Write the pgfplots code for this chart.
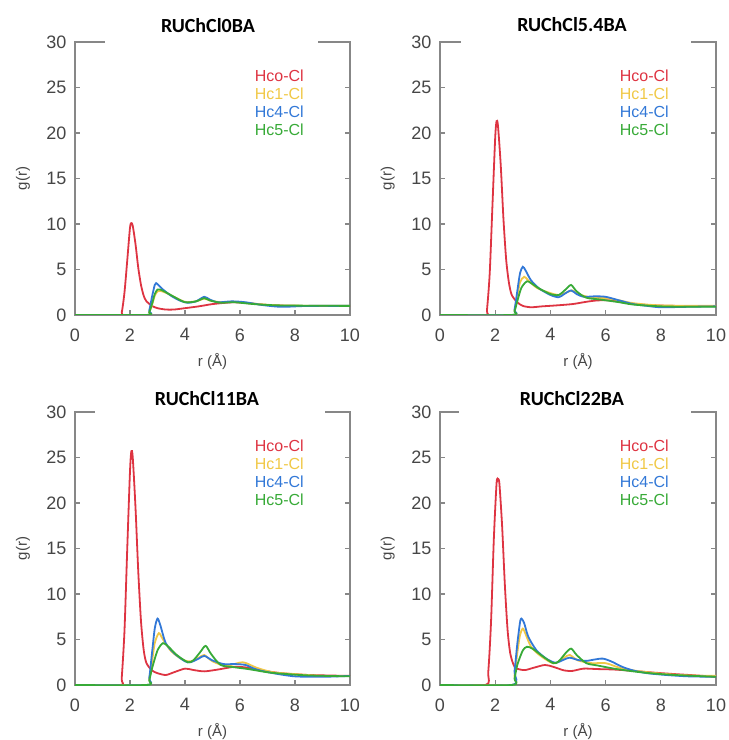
\documentclass[border=0pt]{standalone}
\usepackage{fontspec}
\setmainfont{Liberation Sans}
\newfontfamily\titlefont{Carlito}
\usepackage{pgfplots}
\pgfplotsset{compat=1.18}
\definecolor{cred}{RGB}{222,52,66}
\definecolor{cyel}{RGB}{240,200,70}
\definecolor{cblu}{RGB}{50,120,215}
\definecolor{cgrn}{RGB}{55,170,55}
\definecolor{axgray}{RGB}{135,135,135}
\definecolor{txgray}{RGB}{70,70,70}
\pgfplotsset{
  rdf/.style={
    scale only axis, anchor=south west,
    xmin=0, xmax=10, ymin=0, ymax=30,
    xtick={0,2,4,6,8,10}, ytick={0,5,10,15,20,25,30},
    tick align=inside, major tick length=5pt,
    axis line style={axgray, line width=1.4pt},
    every tick/.style={axgray, line width=1.2pt},
    tick label style={font=\fontsize{18}{20}\selectfont, text=txgray},
    xticklabel style={yshift=-10pt},
    yticklabel style={xshift=-5pt},
    /pgf/number format/assume math mode=true,
    xlabel={r (Å)}, ylabel={g(r)},
    label style={font=\fontsize{15}{17}\selectfont, text=txgray},
    xlabel style={at={(axis description cs:0.5,-0.172)}, anchor=center},
    ylabel style={at={(axis description cs:-0.189,0.5)}, anchor=center},
    every axis plot/.append style={line width=1.8pt, smooth, tension=0.45},
    clip=true,
  }
}
\newcommand{\legtext}[2]{%
  \node[anchor=north east, align=right, font=\fontsize{16}{18}\selectfont, inner sep=0pt] at (#1,#2)
  {\textcolor{cred}{Hco-Cl}\\\textcolor{cyel}{Hc1-Cl}\\\textcolor{cblu}{Hc4-Cl}\\\textcolor{cgrn}{Hc5-Cl}};}
\begin{document}
\begin{tikzpicture}[x=1pt,y=1pt]
\path[use as bounding box] (0,0) rectangle (729,740);
% Panel 1
\begin{axis}[rdf, at={(75pt,425pt)}, width=275pt, height=273pt]
\addplot[cred] coordinates {(0,0)(1.6,0)(1.7,0.3)(1.8,2.5)(1.9,6)(2.0,9.6)(2.05,10.1)(2.1,9.8)(2.2,7.8)(2.3,5.2)(2.4,3.3)(2.5,2.1)(2.6,1.5)(2.8,1.0)(3.0,0.75)(3.3,0.6)(3.6,0.6)(4.0,0.75)(4.5,0.95)(5.0,1.2)(5.5,1.35)(5.8,1.4)(6.3,1.3)(7,1.1)(8,1.0)(10,1.0)};
\addplot[cyel] coordinates {(0,0)(2.6,0)(2.7,0.3)(2.8,1.1)(2.9,2.1)(3.0,2.6)(3.1,2.65)(3.3,2.45)(3.6,2.0)(4.0,1.45)(4.4,1.5)(4.7,1.8)(4.9,1.6)(5.3,1.4)(5.8,1.45)(6.5,1.25)(7.5,1.05)(10,1.0)};
\addplot[cblu] coordinates {(0,0)(2.6,0)(2.7,0.5)(2.8,2.0)(2.9,3.3)(2.95,3.5)(3.0,3.4)(3.2,2.8)(3.5,2.1)(3.8,1.6)(4.1,1.35)(4.4,1.5)(4.7,2.0)(4.9,1.7)(5.2,1.4)(5.7,1.5)(6.2,1.4)(6.8,1.1)(7.5,0.9)(8.5,1.0)(10,1.0)};
\addplot[cgrn] coordinates {(0,0)(2.6,0)(2.7,0.3)(2.8,1.2)(2.9,2.3)(3.0,2.8)(3.1,2.8)(3.3,2.5)(3.6,2.0)(4.0,1.4)(4.4,1.5)(4.7,1.85)(4.9,1.6)(5.3,1.35)(5.8,1.4)(6.5,1.2)(7.5,1.05)(10,1.0)};
\end{axis}
% Panel 2
\begin{axis}[rdf, at={(440pt,425pt)}, width=276pt, height=273pt]
\addplot[cred] coordinates {(0,0)(1.65,0)(1.7,0.5)(1.8,4.5)(1.9,12)(2.0,19.5)(2.05,21.3)(2.1,20.8)(2.2,16.5)(2.3,10.5)(2.4,6)(2.5,3.5)(2.6,2.2)(2.8,1.4)(3.0,1.0)(3.3,0.85)(3.7,0.95)(4.2,1.05)(4.8,1.2)(5.3,1.45)(5.7,1.6)(6.2,1.6)(6.8,1.3)(7.5,1.1)(8.5,1.0)(10,1.0)};
\addplot[cyel] coordinates {(0,0)(2.6,0)(2.7,0.5)(2.8,2.0)(2.9,3.6)(3.05,4.2)(3.2,3.8)(3.5,3.0)(3.9,2.5)(4.3,2.2)(4.6,2.5)(4.8,2.7)(5.0,2.3)(5.5,1.9)(6.0,1.85)(6.5,1.6)(7.0,1.3)(8,1.05)(10,1.0)};
\addplot[cblu] coordinates {(0,0)(2.6,0)(2.7,0.6)(2.8,2.6)(2.9,4.6)(3.0,5.3)(3.1,4.9)(3.3,3.8)(3.6,2.9)(4.0,2.2)(4.3,1.95)(4.5,2.3)(4.75,2.7)(4.95,2.3)(5.2,2.0)(5.6,2.05)(6.0,2.0)(6.5,1.6)(7.0,1.2)(7.5,1.0)(8.0,0.85)(9,0.9)(10,0.95)};
\addplot[cgrn] coordinates {(0,0)(2.6,0)(2.7,0.4)(2.8,1.5)(2.95,3.0)(3.15,3.7)(3.3,3.5)(3.6,2.9)(4.0,2.3)(4.3,2.2)(4.55,2.8)(4.75,3.3)(4.95,2.6)(5.3,1.9)(5.8,1.7)(6.5,1.4)(7.0,1.15)(8,0.95)(9,0.9)(10,0.9)};
\end{axis}
% Panel 3
\begin{axis}[rdf, at={(75pt,55pt)}, width=275pt, height=273pt]
\addplot[cred] coordinates {(0,0)(1.65,0)(1.7,0.8)(1.8,6)(1.9,15)(2.0,23.5)(2.05,25.7)(2.1,25)(2.2,19.5)(2.3,12.5)(2.4,7)(2.5,3.8)(2.6,2.4)(2.8,1.6)(3.0,1.3)(3.3,1.1)(3.6,1.4)(4.0,1.8)(4.3,1.65)(4.7,1.5)(5.2,1.7)(5.8,2.0)(6.3,1.9)(6.8,1.6)(7.5,1.3)(8.5,1.1)(10,1.0)};
\addplot[cyel] coordinates {(0,0)(2.6,0)(2.7,0.6)(2.8,2.5)(2.9,4.6)(3.05,5.7)(3.2,5.0)(3.5,3.7)(3.9,2.8)(4.2,2.6)(4.5,3.0)(4.7,3.3)(5.0,2.6)(5.5,2.1)(6.1,2.5)(6.6,1.9)(7.2,1.4)(8,1.2)(9,1.0)(10,1.0)};
\addplot[cblu] coordinates {(0,0)(2.6,0)(2.7,0.8)(2.8,3.5)(2.9,6.2)(3.0,7.3)(3.1,6.6)(3.3,4.6)(3.6,3.5)(4.0,2.6)(4.2,2.5)(4.5,2.9)(4.7,3.2)(5.0,2.7)(5.4,2.3)(5.8,2.3)(6.2,2.2)(6.6,1.7)(7.2,1.3)(8,0.95)(9,0.9)(10,1.0)};
\addplot[cgrn] coordinates {(0,0)(2.6,0)(2.7,0.5)(2.8,1.8)(3.0,3.8)(3.2,4.6)(3.4,4.2)(3.7,3.3)(4.1,2.5)(4.3,2.7)(4.55,3.6)(4.75,4.3)(4.95,3.4)(5.3,2.2)(5.8,1.95)(6.3,1.75)(7,1.4)(7.5,1.25)(8.5,1.05)(10,0.95)};
\end{axis}
% Panel 4
\begin{axis}[rdf, at={(440pt,55pt)}, width=276pt, height=273pt]
\addplot[cred] coordinates {(0,0)(1.65,0)(1.75,1.5)(1.85,7)(1.95,16)(2.05,22.2)(2.1,22.5)(2.15,22.2)(2.25,17.5)(2.35,11)(2.45,6)(2.55,3.4)(2.7,2.0)(2.9,1.7)(3.1,1.65)(3.4,1.9)(3.8,2.2)(4.1,2.0)(4.5,1.6)(4.8,1.55)(5.2,1.8)(5.7,1.75)(6.3,1.7)(7,1.55)(7.8,1.35)(8.5,1.2)(9.3,1.05)(10,0.9)};
\addplot[cyel] coordinates {(0,0)(2.6,0)(2.7,1.0)(2.8,3.5)(2.9,5.5)(3.0,6.2)(3.1,5.6)(3.3,4.2)(3.6,3.3)(4.0,2.5)(4.2,2.4)(4.5,3.0)(4.7,3.3)(5.0,2.7)(5.5,2.4)(6.0,2.4)(6.5,1.9)(7.0,1.6)(8,1.25)(9,1.05)(10,1.0)};
\addplot[cblu] coordinates {(0,0)(2.6,0)(2.7,1.5)(2.8,4.5)(2.9,6.9)(2.95,7.3)(3.05,6.8)(3.2,5.3)(3.5,3.8)(3.9,2.8)(4.2,2.45)(4.5,2.8)(4.7,3.0)(5.0,2.75)(5.3,2.65)(5.6,2.8)(5.9,2.9)(6.2,2.6)(6.6,2.0)(7.0,1.6)(7.5,1.3)(8.2,1.1)(9,0.95)(10,0.9)};
\addplot[cgrn] coordinates {(0,0)(2.6,0)(2.7,0.7)(2.8,2.2)(3.0,3.8)(3.15,4.2)(3.35,4.0)(3.7,3.2)(4.1,2.4)(4.3,2.6)(4.55,3.5)(4.75,4.0)(4.95,3.3)(5.3,2.4)(5.7,2.15)(6.3,1.8)(7,1.5)(7.6,1.3)(8.5,1.1)(10,0.9)};
\end{axis}
% white title boxes and titles
\fill[white] (105,690) rectangle (318,722);
\fill[white] (461,690) rectangle (691,722);
\fill[white] (95,320) rectangle (325,352);
\fill[white] (459,320) rectangle (691,352);
\node[font=\titlefont\bfseries\fontsize{20}{22}\selectfont] at (208,714) {RUChCl0BA};
\node[font=\titlefont\bfseries\fontsize{20}{22}\selectfont] at (572,715) {RUChCl5.4BA};
\node[font=\titlefont\bfseries\fontsize{20}{22}\selectfont] at (207,341) {RUChCl11BA};
\node[font=\titlefont\bfseries\fontsize{20}{22}\selectfont] at (572,341) {RUChCl22BA};
\legtext{304}{670}
\legtext{669}{670}
\legtext{304}{300}
\legtext{669}{300}
\end{tikzpicture}
\end{document}
